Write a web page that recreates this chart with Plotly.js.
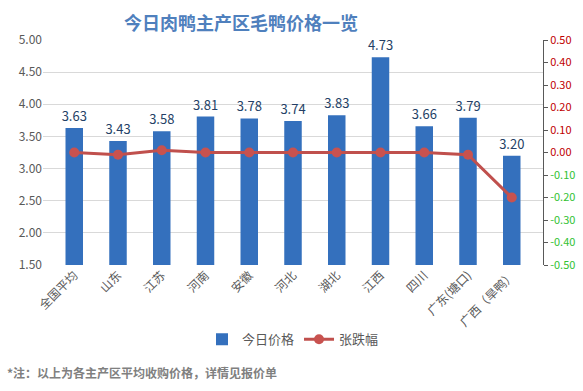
<!DOCTYPE html>
<html><head><meta charset="utf-8">
<script src="https://cdn.plot.ly/plotly-3.0.1.min.js"></script>
<style>body{margin:0;background:#fff}#c{width:583px;height:391px}</style>
</head><body><div id="c"></div>
<script>
const regions = ["全国平均","山东","江苏","河南","安徽","河北","湖北","江西","四川","广东(塘口)","广西（旱鸭）"];
const prices = [3.63,3.43,3.58,3.81,3.78,3.74,3.83,4.73,3.66,3.79,3.20];
const changes = [0.00,-0.01,0.01,0.00,0.00,0.00,0.00,0.00,0.00,-0.01,-0.20];
const leftTicks = [1.5,2.0,2.5,3.0,3.5,4.0,4.5,5.0];
const rightTicks = [-0.5,-0.4,-0.3,-0.2,-0.1,0,0.1,0.2,0.3,0.4,0.5];

const FONT = "Noto Sans CJK SC, Liberation Sans, sans-serif";
const rightText = rightTicks.map(v => {
  const c = v < -1e-9 ? "#33c233" : "#c00000";
  return '<span style="fill:' + c + '">' + v.toFixed(2) + '</span>';
});

const traces = [
  {type:"bar", name:"今日价格", x:regions, y:prices,
   marker:{color:"#3470bd", line:{width:0}}, width:0.4,
   text:prices.map(v=>v.toFixed(2)), textposition:"outside", cliponaxis:false, constraintext:"none",
   textfont:{family:FONT, size:13, color:"#243f66"}, hoverinfo:"none"},
  {type:"scatter", mode:"lines+markers", name:"张跌幅", x:regions, y:changes, yaxis:"y2",
   line:{color:"#c0504d", width:3}, marker:{color:"#c8524f", size:10, symbol:"circle"},
   hoverinfo:"none"}
];

const layout = {
  width:583, height:391, paper_bgcolor:"#fff", plot_bgcolor:"#fff",
  margin:{l:43, r:40, t:40, b:126},
  font:{family:FONT, color:"#595959", size:12},
  showlegend:true,
  legend:{orientation:"h", x:0.5, xanchor:"center", y:-0.33, yanchor:"middle",
          font:{family:FONT, size:13, color:"#595959"}, traceorder:"normal"},
  bargap:0.6,
  xaxis:{type:"category", tickangle:-45, tickfont:{family:FONT, size:12, color:"#595959"},
         showgrid:false, zeroline:false, showline:false, ticks:""},
  yaxis:{range:[1.5,5.0], tickvals:leftTicks, ticktext:leftTicks.map(v=>v.toFixed(2)),
         showgrid:true, gridcolor:"#d9d9d9", gridwidth:1, zeroline:false, showline:false,
         tickfont:{family:FONT, size:12, color:"#595959"}, ticks:"", ticklen:0},
  yaxis2:{overlaying:"y", side:"right", range:[-0.5,0.5], tickvals:rightTicks, ticktext:rightText,
          showgrid:false, zeroline:false, showline:true, linecolor:"#595959", linewidth:1,
          ticks:"outside", ticklen:4, tickcolor:"#595959",
          tickfont:{family:FONT, size:11}},
  annotations:[
    {text:"<b>今日肉鸭主产区毛鸭价格一览</b>", xref:"paper", yref:"paper", x:(241-43)/500, y:(265-22)/225,
     xanchor:"center", yanchor:"middle", showarrow:false,
     font:{family:FONT, size:18, color:"#4f80bd"}},
    {text:"<b>*注：以上为各主产区平均收购价格，详情见报价单</b>", xref:"paper", yref:"paper",
     x:-38/500, y:(265-372)/225, xanchor:"left", yanchor:"middle", showarrow:false,
     font:{family:FONT, size:12, color:"#808080"}}
  ]
};
Plotly.newPlot("c", traces, layout, {displayModeBar:false, staticPlot:true});
</script></body></html>
